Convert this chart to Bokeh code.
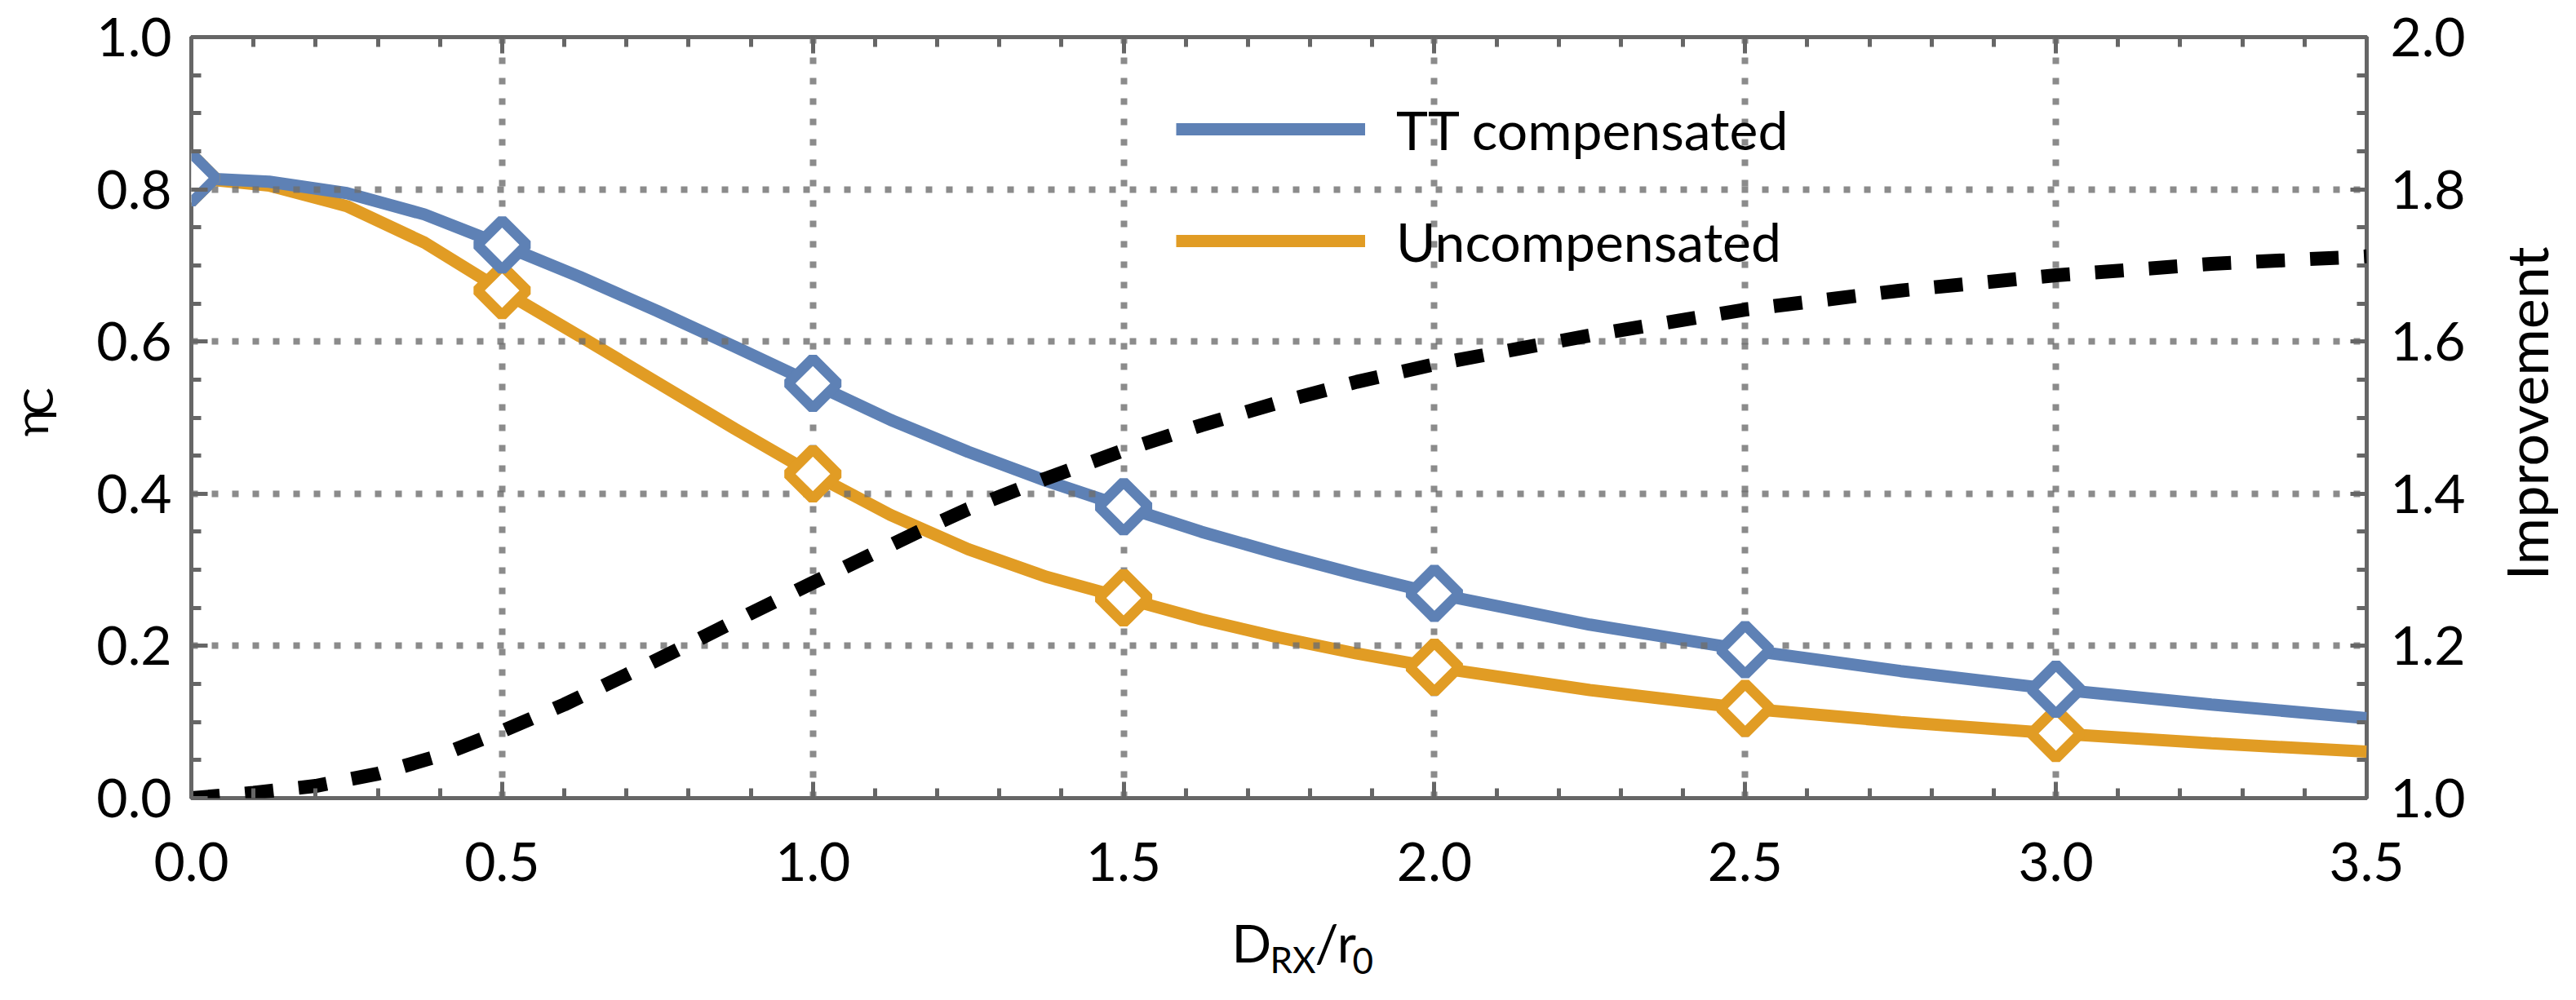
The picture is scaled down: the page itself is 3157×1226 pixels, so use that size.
import math
from bokeh.plotting import figure
from bokeh.layouts import row, column
from bokeh.core.properties import value
from bokeh.models import (Range1d, LinearAxis, SingleIntervalTicker, FixedTicker,
                          PrintfTickFormatter, CustomJSTickFormatter, Legend,
                          LegendItem)
from bokeh.embed import file_html
from bokeh.resources import INLINE

# ---- data ----
x_curve = [0.0, 0.125, 0.25, 0.375, 0.5, 0.625, 0.75, 0.875, 1.0, 1.125, 1.25, 1.375,
           1.5, 1.625, 1.75, 1.875, 2.0, 2.25, 2.5, 2.75, 3.0, 3.25, 3.5]
tt_compensated = [0.815, 0.810, 0.795, 0.767, 0.727, 0.685, 0.640, 0.593, 0.545, 0.497,
                  0.455, 0.417, 0.383, 0.350, 0.321, 0.294, 0.269, 0.228, 0.195, 0.167,
                  0.143, 0.123, 0.105]
uncompensated = [0.815, 0.805, 0.778, 0.730, 0.667, 0.607, 0.546, 0.485, 0.426, 0.372,
                 0.327, 0.291, 0.263, 0.235, 0.211, 0.190, 0.172, 0.142, 0.118, 0.100,
                 0.085, 0.072, 0.061]
x_marker = [0.0, 0.5, 1.0, 1.5, 2.0, 2.5, 3.0]
tt_marker = [0.815, 0.727, 0.545, 0.383, 0.269, 0.195, 0.143]
un_marker = [0.815, 0.667, 0.426, 0.263, 0.172, 0.118, 0.085]
x_improve = [0.0, 0.1, 0.2, 0.3, 0.4, 0.5, 0.6, 0.7, 0.8, 0.9, 1.0, 1.17, 1.25, 1.375,
             1.5, 1.625, 1.75, 1.875, 2.0, 2.25, 2.5, 2.75, 3.0, 3.25, 3.5]
improvement = [1.000, 1.007, 1.016, 1.032, 1.056, 1.088, 1.123, 1.162, 1.202, 1.243, 1.283,
               1.350, 1.380, 1.420, 1.457, 1.490, 1.520, 1.547, 1.570, 1.608, 1.642, 1.667,
               1.687, 1.702, 1.712]
x_grid_ticks = [0.5, 1.0, 1.5, 2.0, 2.5, 3.0]
y_grid_ticks = [0.2, 0.4, 0.6, 0.8]
legend_labels = ["TT compensated", "Uncompensated"]

BLUE = "#5E81B5"
ORANGE = "#E19C24"
FRAME = "#666666"
FONT = "Lato"

LEFT_W, RIGHT_W, MAIN_W, MAIN_H, BOTTOM_H = 100, 99, 2942, 1118, 92

p = figure(width=MAIN_W, height=MAIN_H, x_range=Range1d(0, 3.5), y_range=Range1d(0, 1),
           output_backend="svg", toolbar_location=None, title=None,
           min_border_left=134, min_border_right=142, min_border_top=45, min_border_bottom=140)
p.extra_y_ranges = {"imp": Range1d(1, 2)}
p.background_fill_color = "white"
p.border_fill_color = "white"
p.outline_line_color = FRAME
p.outline_line_width = 5

bottom_axis = p.below[0]
left_axis = p.left[0]
right_axis = LinearAxis(y_range_name="imp")
top_axis = LinearAxis()
p.add_layout(right_axis, "right")
p.add_layout(top_axis, "above")

def style(ax, interval, minor):
    ax.ticker = SingleIntervalTicker(interval=interval, num_minor_ticks=minor)
    ax.axis_line_color = None
    ax.major_tick_line_color = FRAME
    ax.minor_tick_line_color = FRAME
    ax.major_tick_line_width = 5
    ax.minor_tick_line_width = 5
    ax.major_tick_in = 20
    ax.major_tick_out = 0
    ax.minor_tick_in = 12
    ax.minor_tick_out = 0
    ax.major_label_text_font = FONT
    ax.major_label_text_font_size = "66px"
    ax.major_label_text_color = "black"
    ax.formatter = PrintfTickFormatter(format="%.1f")

style(bottom_axis, 0.5, 5)
style(top_axis, 0.5, 5)
style(left_axis, 0.2, 4)
style(right_axis, 0.2, 4)
top_axis.formatter = CustomJSTickFormatter(code="return ''")
bottom_axis.major_label_standoff = 54
left_axis.major_label_standoff = 24
right_axis.major_label_standoff = 29

for g, t in ((p.xgrid[0], x_grid_ticks), (p.ygrid[0], y_grid_ticks)):
    g.ticker = FixedTicker(ticks=t)
    g.grid_line_color = "#6e6e6e"
    g.grid_line_alpha = 0.8
    g.grid_line_width = 8
    g.grid_line_dash = "8 17"

# curves (below the grid)
r_un = p.line(x_curve, uncompensated, line_color=ORANGE, line_width=15, level="image")
r_tt = p.line(x_curve, tt_compensated, line_color=BLUE, line_width=15, level="image")

# improvement ratio on right axis
p.line(x_improve, improvement, y_range_name="imp", line_color="black",
       line_width=17, line_dash="35 31")

# markers
p.scatter(x_marker, un_marker, marker="square", angle=math.pi / 4, size=43,
          line_color=ORANGE, line_width=13, fill_color="white")
p.scatter(x_marker, tt_marker, marker="square", angle=math.pi / 4, size=43,
          line_color=BLUE, line_width=13, fill_color="white")

legend = Legend(items=[LegendItem(label=legend_labels[0], renderers=[r_tt]),
                       LegendItem(label=legend_labels[1], renderers=[r_un])],
                location=(1207, 643))
legend.padding = 0
legend.margin = 0
legend.spacing = 57
legend.glyph_width = 232
legend.glyph_height = 80
legend.label_height = 80
legend.label_standoff = 38
legend.label_text_font = FONT
legend.label_text_font_size = "66px"
legend.label_text_color = "black"
legend.background_fill_alpha = 0
legend.border_line_alpha = 0
p.add_layout(legend)

# ---- side strips that hold the axis titles (pixel-unit ranges) ----
def strip(w, h):
    f = figure(width=w, height=h, x_range=Range1d(0, w), y_range=Range1d(0, h),
               output_backend="svg", toolbar_location=None, title=None,
               x_axis_location=None, y_axis_location=None,
               min_border=0, min_border_left=0, min_border_right=0,
               min_border_top=0, min_border_bottom=0)
    f.grid.visible = False
    f.outline_line_color = None
    f.background_fill_color = "white"
    f.border_fill_color = "white"
    return f

def txt(f, x, y, s, size, angle=0.0, align="center"):
    f.text(x=[x], y=[y], text=[s], text_font=value(FONT), text_font_size=value(size),
           text_color="black", text_align=align, text_baseline="middle", angle=angle)

left_fig = strip(LEFT_W, MAIN_H)
txt(left_fig, 37, 551, "η", "56px", angle=math.pi / 2)
txt(left_fig, 45, 583, "C", "50px", angle=math.pi / 2)

right_fig = strip(RIGHT_W, MAIN_H)
txt(right_fig, 53, 565, "Improvement", "70px", angle=math.pi / 2)

bottom_fig = strip(LEFT_W + MAIN_W + RIGHT_W, BOTTOM_H)
txt(bottom_fig, 1509, 55, "D", "64px", align="left")
txt(bottom_fig, 1556, 35, "RX", "44px", align="left")
txt(bottom_fig, 1611, 55, "/r", "64px", align="left")
txt(bottom_fig, 1657, 33, "0", "44px", align="left")

layout = column(row(left_fig, p, right_fig), bottom_fig)
open("out.html", "w").write(file_html(layout, INLINE))
